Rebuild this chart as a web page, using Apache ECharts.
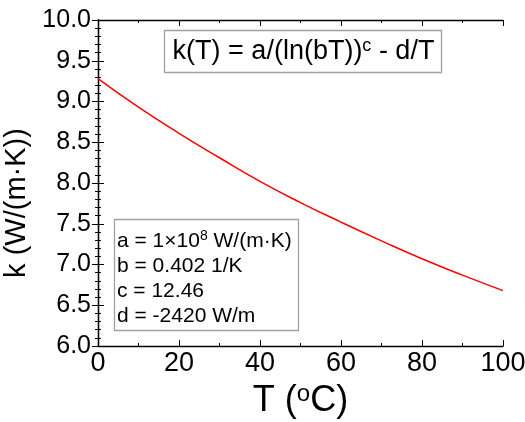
<!DOCTYPE html>
<html><head><meta charset="utf-8">
<script src="https://cdn.jsdelivr.net/npm/echarts@6/dist/echarts.min.js"></script>
<style>html,body{margin:0;padding:0;background:#fff}#c{width:525px;height:422px}</style>
</head><body><div id="c"></div>
<script>
const temps = [0, 10, 20, 30, 40, 50, 60, 70, 80, 90, 100];
const kValues = [9.28, 8.93, 8.61, 8.31, 8.02, 7.76, 7.52, 7.29, 7.07, 6.87, 6.68];
const xTicks = [0, 20, 40, 60, 80, 100];
const yTicks = [6.0, 6.5, 7.0, 7.5, 8.0, 8.5, 9.0, 9.5, 10.0];
const formulaParts = ['k(T) = a/(ln(bT))', 'c', ' - d/T'];
const paramLines = [
  ['a = 1×10', '8', ' W/(m·K)'],
  ['b = 0.402 1/K'],
  ['c = 12.46'],
  ['d = -2420 W/m']
];

const FONT = 'Liberation Sans, Arial, sans-serif';
const chart = echarts.init(document.getElementById('c'), null, {renderer: 'canvas'});
const axLine = {show: true, lineStyle: {color: '#000', width: 1.3}};
const baseX = {
  type: 'value', min: 0, max: 100, interval: 20,
  axisLine: axLine,
  axisTick: {show: true, inside: true, length: 6, lineStyle: {color: '#000'}},
  minorTick: {show: true, splitNumber: 2, length: 3, lineStyle: {color: '#000'}},
  splitLine: {show: false}
};
const baseY = {
  type: 'value', min: 6, max: 10, interval: 0.5,
  axisLine: axLine,
  axisTick: {show: true, inside: true, length: 6, lineStyle: {color: '#000'}},
  minorTick: {show: true, splitNumber: 5, length: 3, lineStyle: {color: '#000'}},
  splitLine: {show: false}
};
function richLine(parts) {
  return parts.map((p, i) => '{' + (i === 1 ? 's' : 'm') + '|' + p + '}').join('');
}
chart.setOption({
  animation: false,
  grid: {left: 98, right: 22, top: 20, bottom: 76, containLabel: false, outerBoundsMode: 'none'},
  xAxis: [
    Object.assign({}, baseX, {
      position: 'bottom',
      axisLabel: {color: '#000', fontSize: 27, fontFamily: FONT, margin: 4,
        formatter: v => xTicks.includes(v) ? String(v) : ''},
      name: '{t|T (}{s|o}{t|C)}', nameLocation: 'middle', nameGap: 35,
      nameTextStyle: {rich: {
        t: {fontSize: 36, fontFamily: FONT, color: '#000'},
        s: {fontSize: 24, fontFamily: FONT, color: '#000', verticalAlign: 'top', padding: [0, 0, 14, 0]}
      }}
    }),
    Object.assign({}, baseX, {position: 'top', axisLabel: {show: false}})
  ],
  yAxis: [
    Object.assign({}, baseY, {
      position: 'left',
      axisLabel: {color: '#000', fontSize: 25, fontFamily: FONT, margin: 7,
        formatter: v => yTicks.some(t => Math.abs(t - v) < 1e-9) ? v.toFixed(1) : ''},
      name: 'k (W/(m·K))', nameLocation: 'middle', nameGap: 57,
      nameTextStyle: {fontSize: 29, fontFamily: FONT, color: '#000', padding: [0, 40, 0, 0]}
    }),
    Object.assign({}, baseY, {position: 'right', axisLabel: {show: false}})
  ],
  series: [{
    type: 'line', smooth: true, showSymbol: false,
    data: temps.map((t, i) => [t, kValues[i]]),
    lineStyle: {color: '#ff0000', width: 1.5}
  }],
  graphic: [
    {type: 'rect', shape: {x: 164.5, y: 30.5, width: 277, height: 42},
     style: {fill: '#fff', stroke: '#a0a0a0', lineWidth: 1.3}, z: 10},
    {type: 'text', x: 303.5, y: 52, z: 11,
     style: {text: richLine(formulaParts),
       align: 'center', verticalAlign: 'middle',
       rich: {m: {fontSize: 27, fontFamily: FONT, fill: '#000'},
              s: {fontSize: 18, fontFamily: FONT, fill: '#000', verticalAlign: 'top', padding: [0, 0, 12, 0]}}}},
    {type: 'rect', shape: {x: 114.5, y: 219.5, width: 184, height: 111},
     style: {fill: '#fff', stroke: '#a0a0a0', lineWidth: 1.3}, z: 10},
    ...paramLines.map((parts, i) => ({
      type: 'text', x: 117, y: 241 + i * 25, z: 11,
      style: {text: richLine(parts),
        align: 'left', verticalAlign: 'middle',
        rich: {m: {fontSize: 21, fontFamily: FONT, fill: '#000'},
               s: {fontSize: 14, fontFamily: FONT, fill: '#000', verticalAlign: 'top', padding: [0, 0, 9, 0]}}}
    }))
  ]
});
</script></body></html>
